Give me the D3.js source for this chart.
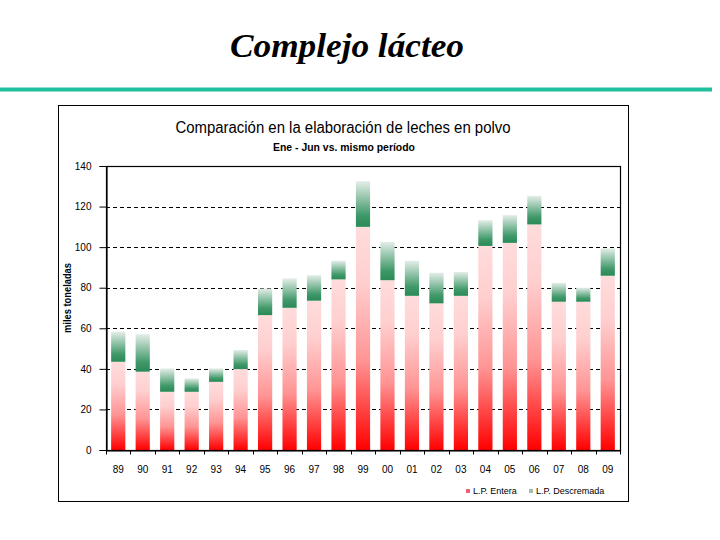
<!DOCTYPE html>
<html>
<head>
<meta charset="utf-8">
<script src="https://cdn.jsdelivr.net/npm/d3@7"></script>
<style>
  body { margin: 0; background: #fff; }
  svg { display: block; }
  .narrow { font-family: "Liberation Sans Narrow", "Arial Narrow", "Liberation Sans", Arial, sans-serif; }
</style>
</head>
<body>
<div id="chart"></div>
<script>
// data (miles de toneladas)
var years = ["89", "90", "91", "92", "93", "94", "95", "96", "97", "98", "99",
             "00", "01", "02", "03", "04", "05", "06", "07", "08", "09"];
var entera = [43.5, 38.6, 28.7, 28.7, 33.6, 39.9, 66.5, 70.1, 73.6, 84.1, 110.0,
              83.7, 76.0, 72.3, 76.0, 100.6, 102.1, 111.2, 73.1, 73.1, 85.9];
var descremada = [14.8, 18.5, 11.5, 6.6, 6.6, 9.4, 13.1, 14.5, 12.6, 9.2, 22.5,
                  18.9, 17.3, 15.1, 11.8, 12.7, 13.7, 14.1, 9.3, 6.9, 13.5];
var yTicks = [0, 20, 40, 60, 80, 100, 120, 140];
var seriesNames = ["L.P. Entera", "L.P. Descremada"];

var svgWidth = 720;
var svgHeight = 540;

// plot area inside the chart box
var plot = { left: 106, top: 166, right: 620, bottom: 450 };

var svg = d3.select("#chart")
  .append("svg")
  .attr("width", svgWidth)
  .attr("height", svgHeight);

// gradients for the bars
var defs = svg.append("defs");

var redGrad = defs.append("linearGradient")
  .attr("id", "gradRed")
  .attr("x1", 0).attr("y1", 1).attr("x2", 0).attr("y2", 0);
redGrad.append("stop").attr("offset", "0%").attr("stop-color", "#ff0000");
redGrad.append("stop").attr("offset", "40%").attr("stop-color", "#ff9494");
redGrad.append("stop").attr("offset", "75%").attr("stop-color", "#ffcfcf");
redGrad.append("stop").attr("offset", "100%").attr("stop-color", "#ffdcdc");

var greenGrad = defs.append("linearGradient")
  .attr("id", "gradGreen")
  .attr("x1", 0).attr("y1", 1).attr("x2", 0).attr("y2", 0);
greenGrad.append("stop").attr("offset", "0%").attr("stop-color", "#2a8a56");
greenGrad.append("stop").attr("offset", "25%").attr("stop-color", "#3f9868");
greenGrad.append("stop").attr("offset", "100%").attr("stop-color", "#e4eee9");

// slide title + teal rule
svg.append("text")
  .attr("x", 347)
  .attr("y", 57)
  .attr("text-anchor", "middle")
  .attr("font-family", "'Liberation Serif', 'Times New Roman', serif")
  .attr("font-style", "italic")
  .attr("font-weight", "bold")
  .attr("font-size", "34px")
  .attr("textLength", 234)
  .attr("lengthAdjust", "spacingAndGlyphs")
  .text("Complejo lácteo");

svg.append("line")
  .attr("x1", 0).attr("x2", 712)
  .attr("y1", 89.5).attr("y2", 89.5)
  .attr("stroke", "#1fbf9d")
  .attr("stroke-width", 4);

// chart box
svg.append("rect")
  .attr("x", 58.5).attr("y", 105.5)
  .attr("width", 570).attr("height", 396)
  .attr("fill", "#fff")
  .attr("stroke", "#000")
  .attr("stroke-width", 1);

svg.append("text")
  .attr("class", "narrow")
  .attr("x", 343).attr("y", 133)
  .attr("text-anchor", "middle")
  .attr("font-size", "16px")
  .attr("textLength", 335)
  .attr("lengthAdjust", "spacingAndGlyphs")
  .text("Comparación en la elaboración de leches en polvo");

svg.append("text")
  .attr("class", "narrow")
  .attr("x", 344).attr("y", 151)
  .attr("text-anchor", "middle")
  .attr("font-size", "11px")
  .attr("font-weight", "bold")
  .attr("textLength", 142)
  .attr("lengthAdjust", "spacingAndGlyphs")
  .text("Ene - Jun vs. mismo período");

// scales
var x = d3.scaleBand()
  .domain(years)
  .range([plot.left, plot.right])
  .paddingInner(0.42)
  .paddingOuter(0.21);

var y = d3.scaleLinear()
  .domain([0, 140])
  .range([plot.bottom, plot.top]);

// dashed gridlines
svg.append("g")
  .selectAll("line")
  .data(yTicks.filter(function(d) { return d > 0 && d < 140; }))
  .enter()
  .append("line")
  .attr("x1", plot.left).attr("x2", plot.right)
  .attr("y1", function(d) { return Math.round(y(d)) + 0.5; })
  .attr("y2", function(d) { return Math.round(y(d)) + 0.5; })
  .attr("stroke", "#000")
  .attr("stroke-width", 1)
  .attr("stroke-dasharray", "4,3");

// stacked bars
var rows = years.map(function(yr, i) {
  return { year: yr, entera: entera[i], descremada: descremada[i] };
});
var stacked = d3.stack().keys(["entera", "descremada"])(rows);
var fills = ["url(#gradRed)", "url(#gradGreen)"];

svg.append("g")
  .selectAll("g")
  .data(stacked)
  .enter()
  .append("g")
  .attr("fill", function(d, i) { return fills[i]; })
  .selectAll("rect")
  .data(function(d) { return d; })
  .enter()
  .append("rect")
  .attr("x", function(d) { return x(d.data.year); })
  .attr("y", function(d) { return y(d[1]); })
  .attr("width", x.bandwidth())
  .attr("height", function(d) { return y(d[0]) - y(d[1]); });

// plot frame (top + right)
svg.append("rect")
  .attr("x", plot.left + 0.5).attr("y", plot.top + 0.5)
  .attr("width", plot.right - plot.left)
  .attr("height", plot.bottom - plot.top)
  .attr("fill", "none")
  .attr("stroke", "#000")
  .attr("stroke-width", 1.2);

// y axis
var leftAxis = d3.axisLeft(y)
  .tickValues(yTicks)
  .tickSize(7)
  .tickPadding(8)
  .tickFormat(d3.format("d"));

var yAxisG = svg.append("g")
  .attr("class", "narrow")
  .attr("transform", "translate(" + (plot.left + 0.5) + ",0)")
  .call(leftAxis);
yAxisG.select(".domain").attr("stroke-width", 1.2);
yAxisG.selectAll("text").attr("font-size", "10px").attr("fill", "#000");

// x axis: labels at centres, ticks on band edges
var bottomAxis = d3.axisBottom(x)
  .tickSize(0)
  .tickPadding(15);

var xAxisG = svg.append("g")
  .attr("class", "narrow")
  .attr("transform", "translate(0," + (plot.bottom + 0.5) + ")")
  .call(bottomAxis);
xAxisG.select(".domain").attr("stroke-width", 1.2);
xAxisG.selectAll("text").attr("font-size", "10px").attr("fill", "#000");

var edgeOffset = x.step() * x.paddingOuter();
var edges = years.map(function(d) { return x(d) - edgeOffset; });
edges.push(plot.right);

xAxisG.selectAll(".edge")
  .data(edges)
  .enter()
  .append("line")
  .attr("class", "edge")
  .attr("x1", function(d) { return Math.round(d) + 0.5; })
  .attr("x2", function(d) { return Math.round(d) + 0.5; })
  .attr("y1", 0).attr("y2", 4)
  .attr("stroke", "#000");

// y axis title
svg.append("text")
  .attr("class", "narrow")
  .attr("transform", "translate(71, 298) rotate(-90)")
  .attr("text-anchor", "middle")
  .attr("font-size", "10px")
  .attr("font-weight", "bold")
  .attr("textLength", 70)
  .attr("lengthAdjust", "spacingAndGlyphs")
  .text("miles toneladas");

// legend
var legendPos = [466, 529];
var legendColors = ["#f06070", "#a8bcae"];
var legend = svg.append("g").attr("class", "narrow");

legend.selectAll("rect")
  .data(seriesNames)
  .enter()
  .append("rect")
  .attr("x", function(d, i) { return legendPos[i]; })
  .attr("y", 489)
  .attr("width", 4).attr("height", 4)
  .attr("fill", function(d, i) { return legendColors[i]; });

legend.selectAll("text")
  .data(seriesNames)
  .enter()
  .append("text")
  .attr("x", function(d, i) { return legendPos[i] + 7; })
  .attr("y", 494)
  .attr("font-size", "9px")
  .attr("fill", "#000")
  .text(function(d) { return d; });
</script>
</body>
</html>
